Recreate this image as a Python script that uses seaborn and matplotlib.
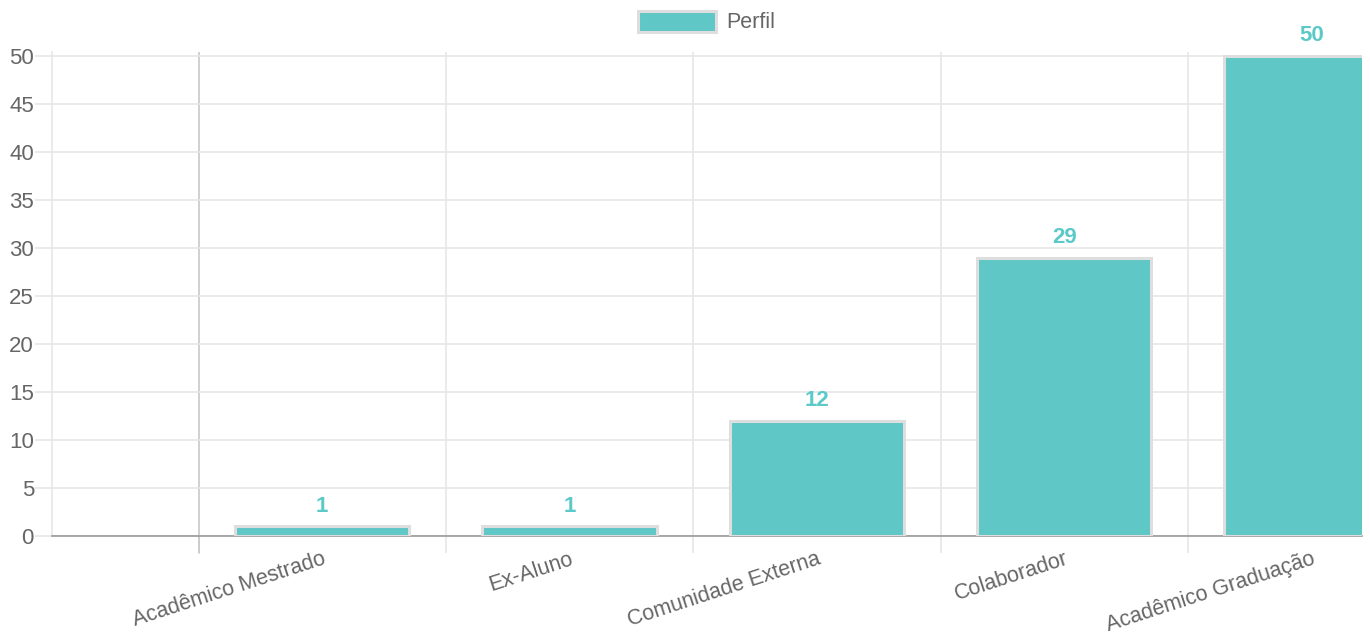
import numpy as np
import pandas as pd
import matplotlib
matplotlib.use("Agg")
import matplotlib.pyplot as plt
import seaborn as sns
from matplotlib.ticker import FixedLocator, MultipleLocator

# data
categories = ["Acadêmico Mestrado", "Ex-Aluno", "Comunidade Externa",
              "Colaborador", "Acadêmico Graduação"]
values = [1, 1, 12, 29, 50]
series_name = "Perfil"

bar_color = "#5fc7c6"
edge_color = "#dedede"
label_color = "#5bc9c8"
text_color = "#666666"
grid_color = "#e6e6e6"

sns.set_theme(style="white")
plt.rcParams["font.family"] = ["Liberation Sans", "DejaVu Sans"]

df = pd.DataFrame({"perfil": categories, "total": values})

fig = plt.figure(figsize=(13.7, 6.39), dpi=100)
ax = fig.add_axes([52 / 1370, 103 / 639, 1310 / 1370, 484 / 639])

sns.barplot(data=df, x="perfil", y="total", ax=ax, color=bar_color,
            edgecolor=edge_color, linewidth=2.2, width=0.705,
            saturation=1, label=series_name, zorder=3)

n = len(categories)
ax.set_xlim(-1.093, n - 1 + 0.204)
ax.set_ylim(0, 50.4)

# horizontal grid + y ticks
ax.yaxis.set_major_locator(MultipleLocator(5))
ax.grid(axis="y", color=grid_color, linewidth=1.2, zorder=0)
ax.tick_params(axis="y", length=12, width=1.2, color=grid_color,
               labelsize=16, labelcolor=text_color, pad=1, left=True)

# category boundaries as vertical grid lines, ticks below axis
bounds = np.arange(n + 1) - 0.5
ax.xaxis.set_minor_locator(FixedLocator(bounds))
ax.tick_params(axis="x", which="minor", length=12, width=1.2,
               color=grid_color, bottom=True)
ax.tick_params(axis="x", which="major", length=0, labelsize=15.5,
               labelcolor=text_color, pad=9)
for i, b in enumerate(bounds):
    ax.axvline(b, color="#c8c8c8" if i == 0 else grid_color,
               linewidth=1.2, zorder=0)
ax.plot([-0.5, -0.5], [0, -0.035], transform=ax.get_xaxis_transform(),
        color="#c8c8c8", linewidth=1.2, clip_on=False)

for lbl in ax.get_xticklabels():
    lbl.set_rotation(18)
    lbl.set_ha("right")
    lbl.set_rotation_mode("anchor")

ax.set_xlabel("")
ax.set_ylabel("")

for side in ["top", "right"]:
    ax.spines[side].set_visible(False)
ax.spines["left"].set_color(grid_color)
ax.spines["left"].set_linewidth(1.2)
ax.spines["bottom"].set_color("#999999")
ax.spines["bottom"].set_linewidth(1.2)

ax.bar_label(ax.containers[0], padding=7, color=label_color,
             fontsize=16, fontweight="bold")

leg = ax.legend(loc="center", bbox_to_anchor=(707 / 1370, 1 - 22 / 639),
                bbox_transform=fig.transFigure, frameon=False,
                fontsize=15.5, handlelength=3.6, handleheight=1.15,
                handletextpad=0.5)
for t in leg.get_texts():
    t.set_color(text_color)

fig.savefig("out.png", dpi=100)
